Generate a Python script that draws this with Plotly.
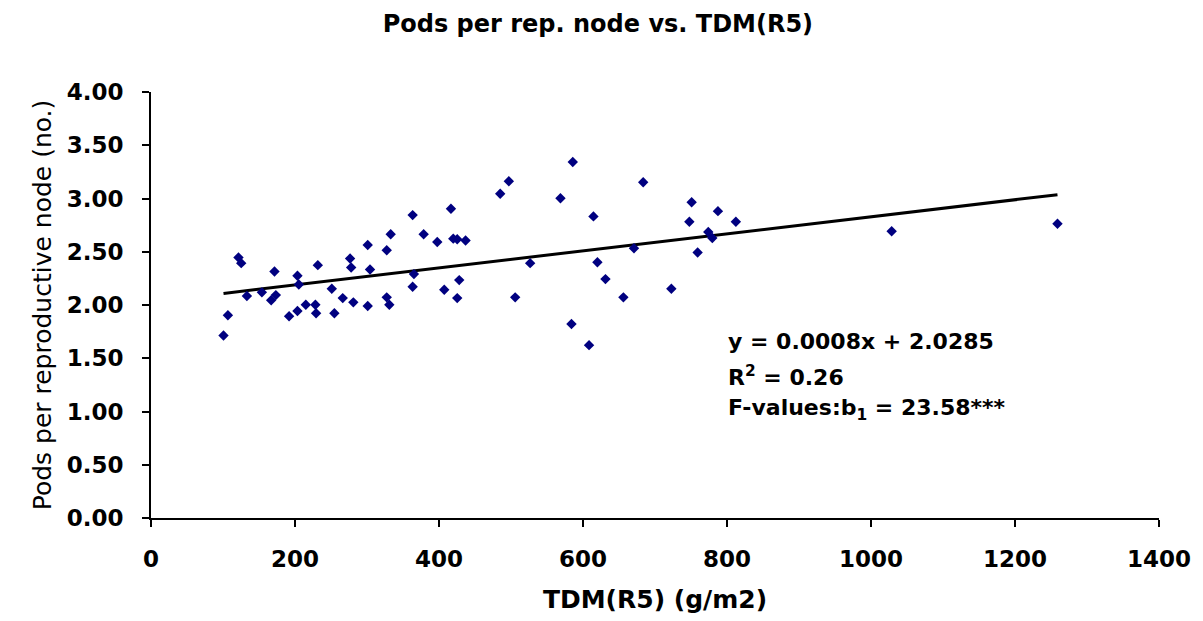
import plotly.graph_objects as go

# Data
tdm = [121.5, 125.3, 171.5, 231.7, 276.5, 278.0, 203.4, 205.3, 251.1, 133.2,
       154.0, 173.4, 166.9, 266.3, 281.0, 215.0, 228.3, 203.4, 229.3, 254.7,
       191.8, 106.8, 100.7,
       363.4, 416.6, 332.9, 378.7, 397.6, 419.8, 425.3, 436.9, 301.0, 327.4,
       304.2, 365.2, 363.4, 407.3, 428.1, 425.3, 301.0, 327.4, 331.0,
       585.8, 497.0, 485.0, 683.6, 568.7, 614.5, 670.8, 526.6, 620.0, 631.2,
       722.7, 505.8, 656.1, 584.0, 608.4,
       750.9, 787.4, 747.7, 812.3, 774.0, 779.6, 759.2,
       1028.7, 1259.0]
pods = [2.446, 2.393, 2.315, 2.374, 2.436, 2.352, 2.274, 2.193, 2.152, 2.084,
        2.119, 2.093, 2.044, 2.065, 2.025, 2.003, 2.003, 1.944, 1.922, 1.922,
        1.894, 1.904, 1.713,
        2.844, 2.904, 2.664, 2.664, 2.592, 2.623, 2.617, 2.605, 2.563, 2.514,
        2.334, 2.290, 2.171, 2.143, 2.234, 2.065, 1.991, 2.072, 2.003,
        3.343, 3.162, 3.044, 3.152, 3.003, 2.832, 2.533, 2.393, 2.402, 2.243,
        2.152, 2.072, 2.072, 1.822, 1.623,
        2.965, 2.881, 2.782, 2.782, 2.685, 2.629, 2.493,
        2.692, 2.763]

slope = 0.0008
intercept = 2.0285
eq_lines = ["y = 0.0008x + 2.0285", "R<sup>2</sup> = 0.26",
            "F-values:b<sub>1</sub> = 23.58***"]
x_ticks = [0, 200, 400, 600, 800, 1000, 1200, 1400]
y_ticks = [0, 0.5, 1.0, 1.5, 2.0, 2.5, 3.0, 3.5, 4.0]

FONT = "DejaVu Sans"

fig = go.Figure()
xl = [min(tdm), max(tdm)]
fig.add_trace(go.Scatter(x=xl, y=[intercept + slope * v for v in xl], mode="lines",
                         line=dict(color="black", width=3), showlegend=False,
                         hoverinfo="skip"))
fig.add_trace(go.Scatter(x=tdm, y=pods, mode="markers",
                         marker=dict(symbol="diamond", size=8, color="#000080"),
                         showlegend=False))

ann_y = [1.654, 1.336, 1.023]
for txt, yy in zip(eq_lines, ann_y):
    fig.add_annotation(x=799, y=yy, xref="x", yref="y", text="<b>%s</b>" % txt,
                       showarrow=False, xanchor="left", yanchor="middle",
                       font=dict(family=FONT, size=22, color="black"))

fig.update_layout(
    width=1203, height=621,
    margin=dict(l=151, r=43, t=92, b=101, pad=0),
    paper_bgcolor="white", plot_bgcolor="white",
    title=dict(text="<b>Pods per rep. node vs. TDM(R5)</b>", x=0.497, xanchor="center",
               y=0.962, yanchor="middle",
               font=dict(family=FONT, size=24, color="black")),
    font=dict(family=FONT, color="black"),
)
fig.update_xaxes(range=[0, 1400], tickvals=x_ticks,
                 ticktext=["<b>%d</b>" % v for v in x_ticks],
                 showgrid=False, zeroline=False, showline=True, linecolor="black",
                 linewidth=2, ticks="outside", ticklen=7, tickwidth=2, tickcolor="black",
                 tickfont=dict(family=FONT, size=23, color="black"),
                 ticklabelstandoff=12,
                 title=dict(text="<b>TDM(R5) (g/m2)</b>", standoff=20,
                            font=dict(family=FONT, size=25, color="black")))
fig.update_yaxes(range=[0, 4], tickvals=y_ticks,
                 ticktext=["<b>%.2f</b>" % v for v in y_ticks],
                 showgrid=False, zeroline=False, showline=True, linecolor="black",
                 linewidth=2, ticks="outside", ticklen=7, tickwidth=2, tickcolor="black",
                 tickfont=dict(family=FONT, size=23, color="black"),
                 ticklabelstandoff=14,
                 title=dict(text="Pods per reproductive node (no.)", standoff=8,
                            font=dict(family=FONT, size=25, color="black")))

fig.write_html("out.html")
